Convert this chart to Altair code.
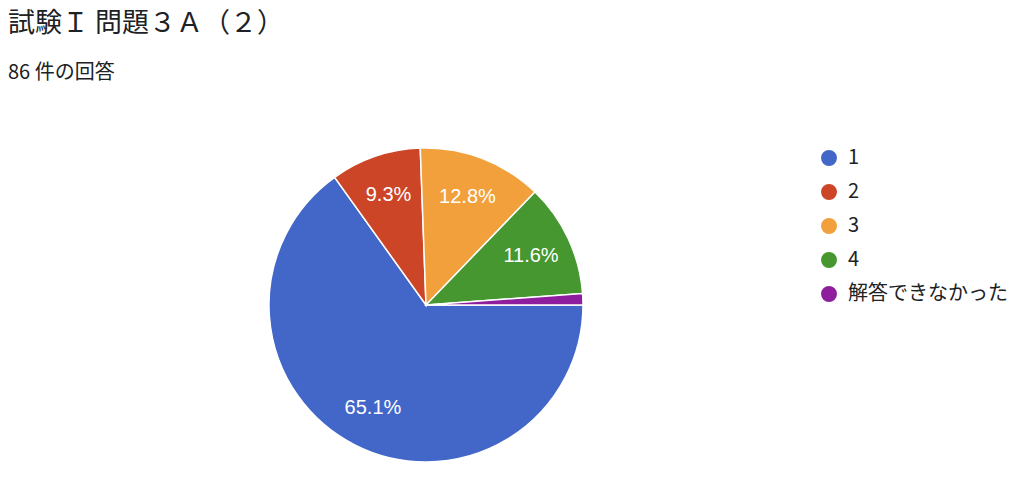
import math
import altair as alt
import pandas as pd

categories = ["1", "2", "3", "4", "解答できなかった"]
counts = [56, 8, 11, 10, 1]
colors = ["#4267C9", "#CC4526", "#F2A03B", "#46972F", "#8E1E9E"]
title_text = "試験Ｉ 問題３Ａ（２）"
subtitle_text = "86 件の回答"

total = sum(counts)
labels = [f"{c / total * 100:.1f}%" if c / total >= 0.05 else "" for c in counts]
df = pd.DataFrame({"cat": categories, "n": counts, "idx": list(range(len(categories))), "label": labels})

CX, CY, R = 418, 297, 157
theta_scale = alt.Scale(range=[math.pi / 2, math.pi / 2 + 2 * math.pi])
color_scale = alt.Scale(domain=categories, range=colors)

base = alt.Chart(df)

pie = base.mark_arc(stroke="white", strokeWidth=1.5).encode(
    theta=alt.Theta("n:Q", stack=True, scale=theta_scale),
    order=alt.Order("idx:Q"),
    color=alt.Color(
        "cat:N",
        scale=color_scale,
        sort=categories,
        legend=alt.Legend(
            orient="none",
            legendX=811,
            legendY=140,
            title=None,
            symbolType="circle",
            symbolSize=254,
            symbolStrokeWidth=0,
            labelFontSize=20,
            labelFont="Noto Sans CJK JP",
            labelColor="#202124",
            rowPadding=14,
            labelOffset=9,
            labelLimit=300,
        ),
    ),
    x=alt.value(CX),
    y=alt.value(CY),
    radius=alt.value(R),
)

text = base.mark_text(font="Liberation Sans", fontSize=20, color="white", align="center", baseline="middle").encode(
    theta=alt.Theta("n:Q", stack=True, scale=theta_scale),
    order=alt.Order("idx:Q"),
    text="label:N",
    x=alt.value(CX),
    y=alt.value(CY),
    radius=alt.value(116),
)

title = alt.Chart(pd.DataFrame({"t": [title_text]})).mark_text(
    font="Noto Sans CJK JP", fontSize=27, color="#202124", align="left", baseline="middle"
).encode(text="t:N", x=alt.value(0), y=alt.value(16))

subtitle = alt.Chart(pd.DataFrame({"t": [subtitle_text]})).mark_text(
    font="Noto Sans CJK JP", fontSize=20, color="#202124", align="left", baseline="middle"
).encode(text="t:N", x=alt.value(0), y=alt.value(65))

chart = alt.layer(pie, text, title, subtitle).properties(
    width=1008, height=467, autosize=alt.AutoSizeParams(type="none"), padding=0, background="white"
).configure_view(stroke=None)

chart.save("out.html", embed_options={"renderer": "svg", "actions": False})
